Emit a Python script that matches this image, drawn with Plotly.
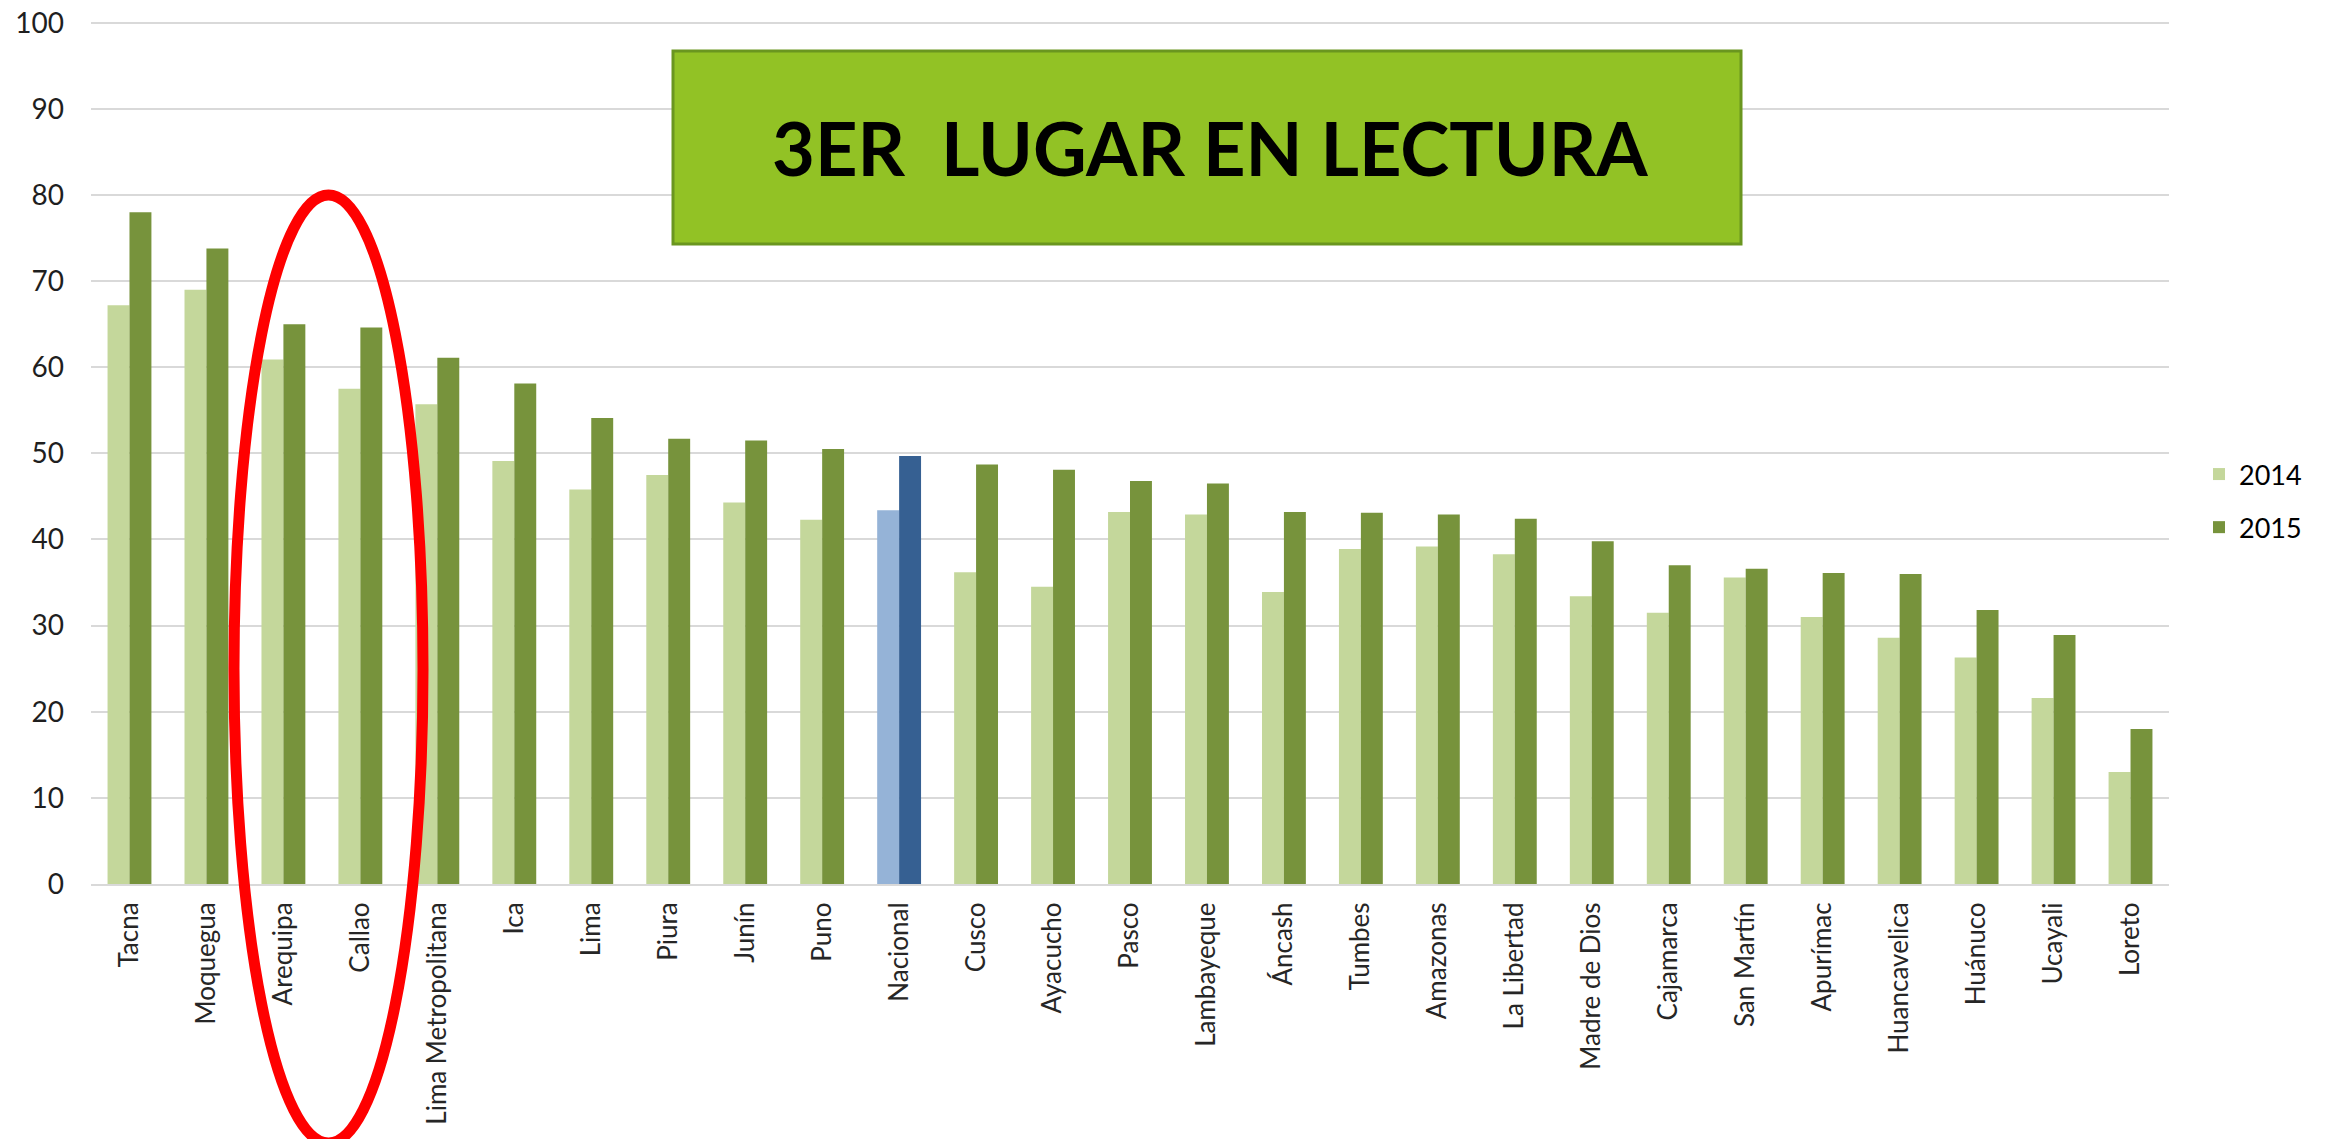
import plotly.graph_objects as go

categories = ["Tacna", "Moquegua", "Arequipa", "Callao", "Lima Metropolitana", "Ica", "Lima",
              "Piura", "Junín", "Puno", "Nacional", "Cusco", "Ayacucho", "Pasco", "Lambayeque",
              "Áncash", "Tumbes", "Amazonas", "La Libertad", "Madre de Dios", "Cajamarca",
              "San Martín", "Apurímac", "Huancavelica", "Huánuco", "Ucayali", "Loreto"]
values_2014 = [67.2, 69.0, 60.9, 57.5, 55.7, 49.1, 45.8, 47.5, 44.3, 42.3, 43.4, 36.2, 34.5,
               43.2, 42.9, 33.9, 38.9, 39.2, 38.3, 33.4, 31.5, 35.6, 31.0, 28.6, 26.3, 21.6, 13.0]
values_2015 = [78.0, 73.8, 65.0, 64.6, 61.1, 58.1, 54.1, 51.7, 51.5, 50.5, 49.7, 48.7, 48.1,
               46.8, 46.5, 43.2, 43.1, 42.9, 42.4, 39.8, 37.0, 36.6, 36.1, 36.0, 31.8, 28.9, 18.0]
series_names = ["2014", "2015"]
highlight = "Nacional"
y_ticks = [0, 10, 20, 30, 40, 50, 60, 70, 80, 90, 100]
title_text = "3ER\u00a0 LUGAR EN LECTURA"

green_light, green_dark = "#C4D79B", "#77933C"
blue_light, blue_dark = "#95B3D7", "#366092"
colors_2014 = [blue_light if c == highlight else green_light for c in categories]
colors_2015 = [blue_dark if c == highlight else green_dark for c in categories]

fig = go.Figure()
fig.add_trace(go.Bar(x=categories, y=values_2014, name=series_names[0],
                     marker=dict(color=colors_2014, line=dict(width=0)),
                     legendgroup="a"))
fig.add_trace(go.Bar(x=categories, y=values_2015, name=series_names[1],
                     marker=dict(color=colors_2015, line=dict(width=0)),
                     legendgroup="b"))

# page body margin offsets the figure by 8px
OFF = 8
W, H = 2328 - OFF, 1139 - OFF
ml, mr, mt, mb = 91 - OFF, 159, 21 - OFF, 255
pw, ph = W - ml - mr, H - mt - mb

def px_x(v):
    return (v - OFF - ml) / pw

def px_y(v):
    return (H - mb - (v - OFF)) / ph

# title box
fig.add_shape(type="rect", xref="paper", yref="paper",
              x0=px_x(673), x1=px_x(1741), y0=px_y(244), y1=px_y(51),
              fillcolor="#92C225", line=dict(color="#6A961F", width=3), layer="above")
fig.add_annotation(xref="paper", yref="paper", x=px_x(1210), y=px_y(148),
                   text=title_text, showarrow=False, xanchor="center", yanchor="middle",
                   font=dict(family="Lato", size=74, color="#000000", weight="bold"))
# red ellipse
fig.add_shape(type="circle", xref="paper", yref="paper",
              x0=px_x(234), x1=px_x(423), y0=px_y(1143), y1=px_y(195),
              line=dict(color="#FF0000", width=11), layer="above")

fig.update_layout(
    width=W, height=H,
    margin=dict(l=ml, r=mr, t=mt, b=mb, autoexpand=False),
    paper_bgcolor="white", plot_bgcolor="white",
    barmode="group", bargap=0.43, bargroupgap=0,
    font=dict(family="Lato", color="#262626"),
    legend=dict(x=px_x(2199), y=px_y(501), xanchor="left", yanchor="middle",
                font=dict(family="Lato", size=27, color="#000000"),
                traceorder="grouped", tracegroupgap=15, bgcolor="rgba(0,0,0,0)"),
    showlegend=True,
)
fig.update_xaxes(type="category", tickangle=-90, showgrid=False, showline=True,
                 linecolor="#D9D9D9", linewidth=2, ticks="",
                 tickfont=dict(family="Lato", size=26, color="#262626"),
                 ticklabelstandoff=6, ticklabeloverflow="allow")
fig.update_yaxes(range=[0, 100.2], tickvals=y_ticks, showgrid=True, gridcolor="#D9D9D9",
                 gridwidth=2, zeroline=False, showline=False, ticks="",
                 tickfont=dict(family="Lato", size=28, color="#1F1F1F"),
                 ticklabelstandoff=26, ticklabeloverflow="allow")

fig.write_html("out.html")
